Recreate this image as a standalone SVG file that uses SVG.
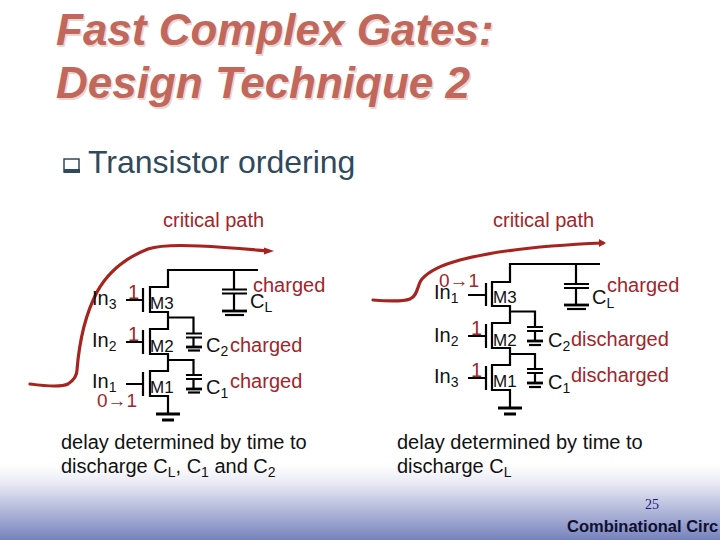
<svg xmlns="http://www.w3.org/2000/svg" width="720" height="540" viewBox="0 0 720 540">
<style>
text{font-family:"Liberation Sans",Arial,sans-serif}
.t{font-size:44px;font-weight:bold;font-style:italic;fill:#c2675c}
.ts{font-size:44px;font-weight:bold;font-style:italic;fill:#ecd5cf}
.b{font-size:32px;fill:#2f4a5c}
.r{font-size:20px;fill:#a0262a}
.k{font-size:20px;fill:#111}
.m{font-size:17px;fill:#111}
.s{font-size:14px}
.w{fill:none;stroke:#000;stroke-width:2.200}
.g{fill:none;stroke:#000;stroke-width:2.800}
.c{fill:none;stroke:#a62420;stroke-width:3.200;stroke-linecap:round}
.h{fill:#a62420}
</style>
<defs>
<linearGradient id="bg" x1="0" y1="0" x2="0" y2="1">
<stop offset="0" stop-color="#ffffff"/><stop offset="0.25" stop-color="#e8e9f4"/><stop offset="1" stop-color="#7682bd"/>
</linearGradient>
</defs>
<rect x="0" y="465" width="720" height="75" fill="url(#bg)"/>
<g id="title">
<text class="ts" x="57.500" y="46.500">Fast Complex Gates:</text>
<text class="ts" x="57.500" y="99.500">Design Technique 2</text>
<text class="t" x="56" y="45">Fast Complex Gates:</text>
<text class="t" x="56" y="98">Design Technique 2</text>
</g>
<g id="bullet">
<rect x="64" y="159" width="15" height="13" fill="#fff" stroke="#2f4a5c" stroke-width="1.500"/>
<rect x="64" y="169" width="16" height="4" fill="#2f4a5c"/>
<text class="b" x="88" y="173">Transistor ordering</text>
</g>
<g id="connectors">
<path class="c" d="M30 384C45 386 62 387 68 384C74 380 77 375 77 370C79 345 85 315 97 292C108 272 125 258 148 249C160 245 180 245 200 246C225 247 245 249 268 251"/>
<path class="h" d="M264 247.500L274 251L264 254.500Z"/>
<path class="c" d="M373 300C385 301 402 302 410 299C418 296 417 285 422 279C430 270 445 264 460 260C490 252 530 246 603 243"/>
<path class="h" d="M599 239L606 243L599 247Z"/>
</g>
<g id="left-circuit">
<path class="w" d="M258 270H168V287H150V312H168V329H150V354H168V371H150V396H168V414"/>
<path class="w" d="M168 317.500H193.500V333M168 360H193.500V375"/>
<path class="w" d="M126 300H143M143 288V312M126 342H143M143 330V354M126 384H143M143 372V396"/>
<path class="g" d="M156 414H180M162 420H174"/>
<path class="w" d="M234 270V289.500M222 289.500H247M222 293.500H247M234 293.500V311"/>
<path class="g" d="M222 311H247"/>
<path class="w" d="M225 315H244"/>
<path class="w" d="M186 333.500H202M186 337.500H202M193.500 337.500V347"/>
<path class="g" d="M186 347H202"/><path class="w" d="M188 350.500H200"/>
<path class="w" d="M186 375H202M186 379H202M193.500 379V389"/>
<path class="g" d="M186 389H202"/><path class="w" d="M188 392.500H200"/>
<text class="m" x="150" y="309">M3</text><text class="m" x="150" y="352">M2</text><text class="m" x="150" y="393">M1</text>
<text class="k" x="92" y="305">In<tspan class="s" dy="4">3</tspan></text>
<text class="k" x="92" y="347">In<tspan class="s" dy="4">2</tspan></text>
<text class="k" x="92" y="388">In<tspan class="s" dy="4">1</tspan></text>
<text class="k" x="250" y="308">C<tspan class="s" dy="4">L</tspan></text>
<text class="k" x="206" y="352">C<tspan class="s" dy="4">2</tspan></text>
<text class="k" x="206" y="394">C<tspan class="s" dy="4">1</tspan></text>
<text class="r" x="128" y="299">1</text>
<text class="r" x="128" y="341">1</text>
<text class="r" x="97" y="407" style="font-size:19px">0→1</text>
<text class="r" x="253" y="292">charged</text>
<text class="r" x="230" y="352">charged</text>
<text class="r" x="230" y="388">charged</text>
<text class="r" x="163" y="227">critical path</text>
</g>
<g id="right-circuit">
<path class="w" d="M600 264H510V282H492V306H510V323H492V348H510V365H492V390H510V408"/>
<path class="w" d="M510 311.500H535V327M510 354H535V369"/>
<path class="w" d="M468 295H486M486 283V306M468 336H486M486 324V348M468 378H486M486 366V390"/>
<path class="g" d="M498 408H522M504 414H516"/>
<path class="w" d="M576 264V284M564 284H589M564 288H589M576 288V305"/>
<path class="g" d="M564 305H589"/><path class="w" d="M567 309H586"/>
<path class="w" d="M527 327H543M527 331H543M535 331V341"/>
<path class="g" d="M527 341H543"/><path class="w" d="M529 345H541"/>
<path class="w" d="M527 369H543M527 373H543M535 373V383"/>
<path class="g" d="M527 383H543"/><path class="w" d="M529 387H541"/>
<text class="m" x="493" y="303">M3</text><text class="m" x="493" y="346">M2</text><text class="m" x="493" y="387">M1</text>
<text class="k" x="434" y="299">In<tspan class="s" dy="4">1</tspan></text>
<text class="k" x="434" y="342">In<tspan class="s" dy="4">2</tspan></text>
<text class="k" x="434" y="383">In<tspan class="s" dy="4">3</tspan></text>
<text class="k" x="592" y="304">C<tspan class="s" dy="4">L</tspan></text>
<text class="k" x="548" y="347">C<tspan class="s" dy="4">2</tspan></text>
<text class="k" x="548" y="389">C<tspan class="s" dy="4">1</tspan></text>
<text class="r" x="471" y="335">1</text>
<text class="r" x="471" y="377">1</text>
<text class="r" x="439" y="287" style="font-size:19px">0→1</text>
<text class="r" x="607" y="292">charged</text>
<text class="r" x="571" y="346">discharged</text>
<text class="r" x="571" y="382">discharged</text>
<text class="r" x="493" y="227">critical path</text>
</g>
<g id="captions">
<text class="k" x="61" y="449">delay determined by time to</text>
<text class="k" x="61" y="473">discharge C<tspan class="s" dy="4">L</tspan><tspan dy="-4">, C</tspan><tspan class="s" dy="4">1</tspan><tspan dy="-4"> and C</tspan><tspan class="s" dy="4">2</tspan></text>
<text class="k" x="397" y="449">delay determined by time to</text>
<text class="k" x="397" y="473">discharge C<tspan class="s" dy="4">L</tspan></text>
</g>
<g id="footer">
<text x="645" y="509" font-size="14" style="font-family:'Liberation Serif',serif" fill="#1a1a80">25</text>
<text x="567" y="532" font-size="16.500" style="font-weight:bold" fill="#101030">Combinational Circ</text>
</g>
</svg>
